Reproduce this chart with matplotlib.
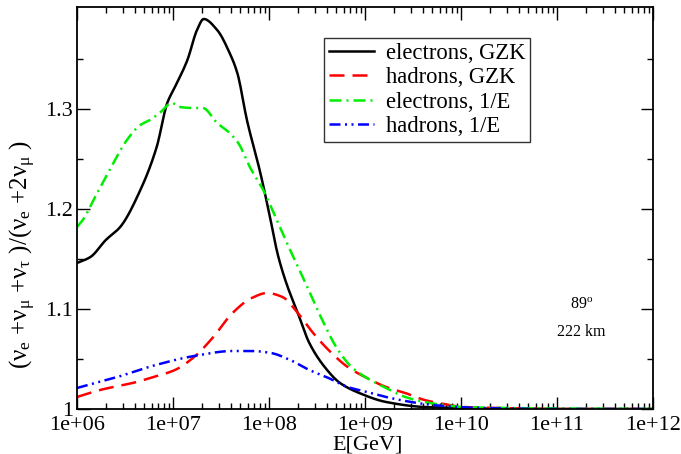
import matplotlib.pyplot as plt
import numpy as np
from matplotlib.ticker import FixedLocator, LogLocator, NullFormatter

plt.rcParams["font.family"] = ["Liberation Serif", "DejaVu Serif"]
plt.rcParams["mathtext.fontset"] = "custom"
plt.rcParams["mathtext.rm"] = "Liberation Serif"
plt.rcParams["mathtext.it"] = "Liberation Serif:italic"

# log10(E/GeV) and ratio values
e_gzk_x = [6.0, 6.14, 6.30, 6.45, 6.66, 6.83, 6.94, 7.02, 7.15, 7.25, 7.32, 7.46, 7.59, 7.67,
           7.77, 7.91, 8.01, 8.09, 8.18, 8.30, 8.42, 8.58, 8.74, 8.94, 9.22, 9.62, 10.02, 10.5, 11.0, 12.0]
e_gzk_y = [1.146, 1.152, 1.169, 1.182, 1.219, 1.262, 1.306, 1.322, 1.349, 1.379, 1.390, 1.379, 1.356, 1.336,
           1.289, 1.236, 1.192, 1.155, 1.126, 1.096, 1.066, 1.042, 1.026, 1.016, 1.007, 1.002, 1.001, 1.0, 1.0, 1.0]

h_gzk_x = [6.0, 6.24, 6.62, 6.76, 7.02, 7.22, 7.42, 7.62, 7.82, 7.98, 8.14, 8.30, 8.46, 8.62,
           8.82, 9.02, 9.22, 9.42, 9.62, 9.82, 10.02, 10.42, 11.0, 12.0]
h_gzk_y = [1.012, 1.019, 1.027, 1.031, 1.039, 1.052, 1.072, 1.096, 1.111, 1.116, 1.112, 1.096, 1.076, 1.059,
           1.042, 1.031, 1.022, 1.016, 1.009, 1.005, 1.002, 1.001, 1.0, 1.0]

e_inv_x = [6.0, 6.06, 6.21, 6.34, 6.52, 6.66, 6.76, 6.86, 6.99, 7.07, 7.21, 7.31, 7.46, 7.59, 7.68,
           7.80, 7.94, 8.08, 8.22, 8.38, 8.54, 8.70, 8.86, 9.02, 9.22, 9.42, 9.62, 9.82, 10.02, 10.5, 11.0, 12.0]
e_inv_y = [1.182, 1.189, 1.216, 1.239, 1.269, 1.284, 1.289, 1.296, 1.306, 1.302, 1.301, 1.301, 1.286, 1.276, 1.266,
           1.242, 1.219, 1.189, 1.159, 1.126, 1.092, 1.062, 1.042, 1.031, 1.021, 1.012, 1.007, 1.004, 1.002, 1.001, 1.0005, 1.0]

h_inv_x = [6.0, 6.42, 6.82, 7.22, 7.62, 7.82, 8.02, 8.22, 8.42, 8.62, 8.82, 9.02, 9.22, 9.42,
           9.62, 9.82, 10.22, 11.0, 12.0]
h_inv_y = [1.021, 1.032, 1.044, 1.053, 1.058, 1.058, 1.056, 1.049, 1.039, 1.031, 1.022, 1.017, 1.012, 1.008,
           1.005, 1.003, 1.001, 1.0, 1.0]

labels = ["electrons, GZK", "hadrons, GZK", "electrons, 1/E", "hadrons, 1/E"]
xticks = [1e6, 1e7, 1e8, 1e9, 1e10, 1e11, 1e12]
xticklabels = ["1e+06", "1e+07", "1e+08", "1e+09", "1e+10", "1e+11", "1e+12"]
yticks = [1.0, 1.1, 1.2, 1.3]
yticklabels = ["1", "1.1", "1.2", "1.3"]


def pchip(xs, ys, n=600):
    # monotone cubic through the read points, just to draw a smooth line
    xs = np.asarray(xs, float)
    ys = np.asarray(ys, float)
    h = np.diff(xs)
    d = np.diff(ys) / h
    m = np.zeros_like(ys)
    for k in range(1, len(xs) - 1):
        if d[k - 1] * d[k] > 0:
            w1 = 2 * h[k] + h[k - 1]
            w2 = h[k] + 2 * h[k - 1]
            m[k] = (w1 + w2) / (w1 / d[k - 1] + w2 / d[k])
    m[0] = d[0]
    m[-1] = d[-1]
    xd = np.linspace(xs[0], xs[-1], n)
    idx = np.clip(np.searchsorted(xs, xd) - 1, 0, len(xs) - 2)
    t = (xd - xs[idx]) / h[idx]
    h00 = 2 * t**3 - 3 * t**2 + 1
    h10 = t**3 - 2 * t**2 + t
    h01 = -2 * t**3 + 3 * t**2
    h11 = t**3 - t**2
    yd = h00 * ys[idx] + h10 * h[idx] * m[idx] + h01 * ys[idx + 1] + h11 * h[idx] * m[idx + 1]
    return 10 ** xd, yd


fig = plt.figure(figsize=(6.81, 4.54), dpi=100)
ax = fig.add_axes([77 / 681, 1 - 409 / 454, 576 / 681, 402 / 454])

x, y = pchip(e_gzk_x, e_gzk_y)
ax.plot(x, y, color="black", lw=1.8, label=labels[0])
x, y = pchip(h_gzk_x, h_gzk_y)
ax.plot(x, y, color="red", lw=1.8, dashes=(6, 3.2), label=labels[1])
x, y = pchip(e_inv_x, e_inv_y)
ax.plot(x, y, color="#00ee00", lw=1.8, dashes=(4.8, 2, 0.8, 2), label=labels[2])
x, y = pchip(h_inv_x, h_inv_y)
ax.plot(x, y, color="blue", lw=1.8, dashes=(4.4, 1.8, 0.8, 1.8, 0.8, 1.8), label=labels[3])

ax.set_xscale("log")
ax.set_xlim(1e6, 1e12)
ax.set_ylim(1.0, 1.402)
ax.set_xticks(xticks)
ax.set_xticklabels(xticklabels)
ax.xaxis.set_minor_locator(LogLocator(base=10, subs=np.arange(2, 10)))
ax.xaxis.set_minor_formatter(NullFormatter())
ax.set_yticks(yticks)
ax.set_yticklabels(yticklabels)
ax.yaxis.set_minor_locator(FixedLocator([1.05, 1.15, 1.25, 1.35]))

ax.tick_params(which="both", direction="in", top=True, right=True, labelsize=16, width=1.0)
ax.tick_params(which="major", length=9, pad=3)
ax.tick_params(axis="x", which="major", pad=5)
ax.tick_params(which="minor", length=4.5)
for s in ax.spines.values():
    s.set_linewidth(1.3)

ax.set_xlabel("E[GeV]", fontsize=16)
ax.xaxis.set_label_coords(0.505, -0.066)
ax.set_ylabel("(ν$_{\\rm e}$ +ν$_{\\rm μ}$ +ν$_{\\rm τ}$ )/(ν$_{\\rm e}$ +2ν$_{\\rm μ}$ )", fontsize=18)
ax.yaxis.set_label_coords(-0.068, 0.385)

leg = ax.legend(loc="upper left", bbox_to_anchor=(247 / 576, 1 - 31 / 402), fontsize=16.3,
                frameon=True, fancybox=False, edgecolor="black", handlelength=2.0,
                borderpad=0.22, labelspacing=0.15, handletextpad=0.5, borderaxespad=0)
leg.get_frame().set_linewidth(1.0)

ax.text(1.8e11, 1.104, r"89$^{\rm o}$", fontsize=11.5, ha="center", va="center")
ax.text(1.8e11, 1.077, "222 km", fontsize=11.5, ha="center", va="center")

fig.savefig("out.png", dpi=100)
